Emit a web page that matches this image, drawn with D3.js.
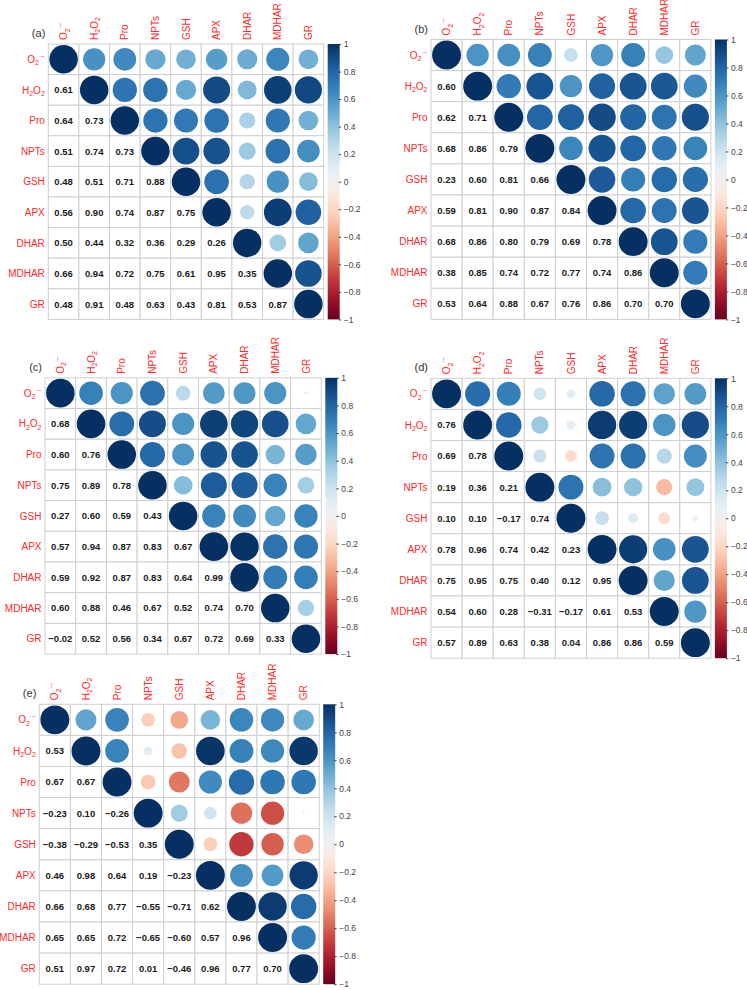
<!DOCTYPE html>
<html>
<head>
<meta charset="utf-8">
<script src="https://cdn.jsdelivr.net/npm/d3@7"></script>
<style>
  body { margin: 0; background: #fff; }
  svg text { font-family: "Liberation Sans", Arial, sans-serif; }
</style>
</head>
<body>
<div id="chart"></div>
<script>

// variables (row / column order of every matrix)
var varNames = ["O2", "H2O2", "Pro", "NPTs", "GSH", "APX", "DHAR", "MDHAR", "GR"];

// lower triangles, row i holds the correlations with the i variables before it
var corrA = [
  [],
  [0.61],
  [0.64, 0.73],
  [0.51, 0.74, 0.73],
  [0.48, 0.51, 0.71, 0.88],
  [0.56, 0.90, 0.74, 0.87, 0.75],
  [0.50, 0.44, 0.32, 0.36, 0.29, 0.26],
  [0.66, 0.94, 0.72, 0.75, 0.61, 0.95, 0.35],
  [0.48, 0.91, 0.48, 0.63, 0.43, 0.81, 0.53, 0.87]
];

var corrB = [
  [],
  [0.60],
  [0.62, 0.71],
  [0.68, 0.86, 0.79],
  [0.23, 0.60, 0.81, 0.66],
  [0.59, 0.81, 0.90, 0.87, 0.84],
  [0.68, 0.86, 0.80, 0.79, 0.69, 0.78],
  [0.38, 0.85, 0.74, 0.72, 0.77, 0.74, 0.86],
  [0.53, 0.64, 0.88, 0.67, 0.76, 0.86, 0.70, 0.70]
];

var corrC = [
  [],
  [0.68],
  [0.60, 0.76],
  [0.75, 0.89, 0.78],
  [0.27, 0.60, 0.59, 0.43],
  [0.57, 0.94, 0.87, 0.83, 0.67],
  [0.59, 0.92, 0.87, 0.83, 0.64, 0.99],
  [0.60, 0.88, 0.46, 0.67, 0.52, 0.74, 0.70],
  [-0.02, 0.52, 0.56, 0.34, 0.67, 0.72, 0.69, 0.33]
];

var corrD = [
  [],
  [0.76],
  [0.69, 0.78],
  [0.19, 0.36, 0.21],
  [0.10, 0.10, -0.17, 0.74],
  [0.78, 0.96, 0.74, 0.42, 0.23],
  [0.75, 0.95, 0.75, 0.40, 0.12, 0.95],
  [0.54, 0.60, 0.28, -0.31, -0.17, 0.61, 0.53],
  [0.57, 0.89, 0.63, 0.38, 0.04, 0.86, 0.86, 0.59]
];

var corrE = [
  [],
  [0.53],
  [0.67, 0.67],
  [-0.23, 0.10, -0.26],
  [-0.38, -0.29, -0.53, 0.35],
  [0.46, 0.98, 0.64, 0.19, -0.23],
  [0.66, 0.68, 0.77, -0.55, -0.71, 0.62],
  [0.65, 0.65, 0.72, -0.65, -0.60, 0.57, 0.96],
  [0.51, 0.97, 0.72, 0.01, -0.46, 0.96, 0.77, 0.70]
];

var panelLetters = ["(a)", "(b)", "(c)", "(d)", "(e)"];
var panelData = [corrA, corrB, corrC, corrD, corrE];

// where each matrix sits on the page
var panelBox = [
  { left: 48.3, top: 44,    cell: 30.6 },
  { left: 431,  top: 39.5,  cell: 31.1 },
  { left: 45,   top: 377.8, cell: 30.7 },
  { left: 431,  top: 378.3, cell: 31.1 },
  { left: 39.3, top: 704.3, cell: 31.1 }
];

var svgWidth = 747;
var svgHeight = 990;

var svg = d3.select("#chart")
  .append("svg")
  .attr("width", svgWidth)
  .attr("height", svgHeight);

var colorScale = d3.scaleSequential(d3.interpolateRdBu).domain([-1, 1]);
var fmt = d3.format(".2f");
var labelRed = "#ff2a2a";

// gradient for the colour bars
var grad = svg.append("defs").append("linearGradient")
  .attr("id", "rdbu")
  .attr("x1", 0).attr("y1", 1)
  .attr("x2", 0).attr("y2", 0);

d3.range(0, 1.001, 0.02).forEach(function(t) {
  grad.append("stop")
    .attr("offset", t)
    .attr("stop-color", colorScale(t * 2 - 1));
});

// full symmetric value from lower triangle
function corrValue(tri, i, j) {
  if (i === j) return 1;
  return i > j ? tri[i][j] : tri[j][i];
}

// variable names with sub/superscripts
function writeName(sel, name) {
  if (name === "O2") {
    sel.append("tspan").text("O");
    sel.append("tspan").attr("font-size", "7px").attr("dy", 2.5).text("2");
    sel.append("tspan").attr("font-size", "6.5px").attr("dy", -6.5).text("\u00b7\u2212");
  }
  else if (name === "H2O2") {
    sel.append("tspan").text("H");
    sel.append("tspan").attr("font-size", "7px").attr("dy", 2.5).text("2");
    sel.append("tspan").attr("dy", -2.5).text("O");
    sel.append("tspan").attr("font-size", "7px").attr("dy", 2.5).text("2");
  }
  else {
    sel.text(name);
  }
}

function drawPanel(tri, box, letter) {
  var n = varNames.length;
  var size = box.cell * n;

  var g = svg.append("g")
    .attr("transform", `translate(${box.left}, ${box.top})`);

  var xBand = d3.scaleBand().domain(varNames).range([0, size]);
  var yBand = d3.scaleBand().domain(varNames).range([0, size]);
  var rScale = d3.scaleSqrt().domain([0, 1]).range([0, box.cell * 0.465]);

  var cells = [];
  varNames.forEach(function(rn, i) {
    varNames.forEach(function(cn, j) {
      cells.push({ row: rn, col: cn, i: i, j: j, v: corrValue(tri, i, j) });
    });
  });

  // grid
  g.selectAll("rect.cell")
    .data(cells)
    .enter()
    .append("rect")
    .attr("class", "cell")
    .attr("x", d => xBand(d.col))
    .attr("y", d => yBand(d.row))
    .attr("width", xBand.bandwidth())
    .attr("height", yBand.bandwidth())
    .attr("fill", "#fff")
    .attr("stroke", "#cfcfcf")
    .attr("stroke-width", 1);

  // upper triangle + diagonal: circles
  g.selectAll("circle")
    .data(cells.filter(d => d.j >= d.i))
    .enter()
    .append("circle")
    .attr("cx", d => xBand(d.col) + xBand.bandwidth() / 2)
    .attr("cy", d => yBand(d.row) + yBand.bandwidth() / 2)
    .attr("r", d => rScale(Math.abs(d.v)))
    .attr("fill", d => colorScale(d.v));

  // lower triangle: numbers
  g.selectAll("text.val")
    .data(cells.filter(d => d.j < d.i))
    .enter()
    .append("text")
    .attr("class", "val")
    .attr("x", d => xBand(d.col) + xBand.bandwidth() / 2)
    .attr("y", d => yBand(d.row) + yBand.bandwidth() / 2)
    .attr("dy", "0.36em")
    .attr("text-anchor", "middle")
    .attr("font-size", "9.5px")
    .attr("font-weight", "bold")
    .attr("fill", "#1a1a1a")
    .text(d => fmt(d.v));

  // row labels
  varNames.forEach(function(name) {
    var t = g.append("text")
      .attr("x", -3.5)
      .attr("y", yBand(name) + yBand.bandwidth() / 2)
      .attr("dy", "0.36em")
      .attr("text-anchor", "end")
      .attr("font-size", "10px")
      .attr("fill", labelRed);
    writeName(t, name);
  });

  // column labels (rotated)
  varNames.forEach(function(name) {
    var cx = xBand(name) + xBand.bandwidth() / 2;
    var t = g.append("text")
      .attr("transform", `translate(${cx}, -4) rotate(-90)`)
      .attr("dy", "0.36em")
      .attr("text-anchor", "start")
      .attr("font-size", "10px")
      .attr("fill", labelRed);
    writeName(t, name);
  });

  // panel letter
  g.append("text")
    .attr("x", -3)
    .attr("y", -7)
    .attr("text-anchor", "end")
    .attr("font-size", "11px")
    .attr("fill", "#333")
    .text(letter);

  // colour bar
  var barX = size + 4;
  var barW = 12;
  g.append("rect")
    .attr("x", barX)
    .attr("y", 0)
    .attr("width", barW)
    .attr("height", size)
    .attr("fill", "url(#rdbu)");

  var barScale = d3.scaleLinear().domain([-1, 1]).range([size, 0]);
  var barAxis = d3.axisRight(barScale)
    .tickValues(barScale.ticks(10))
    .tickFormat(d3.format("~g"))
    .tickSize(2.5)
    .tickPadding(2.5);

  var ax = g.append("g")
    .attr("transform", `translate(${barX + barW - 1}, 0)`)
    .call(barAxis);

  ax.select(".domain").remove();
  ax.selectAll("line").attr("stroke", "#444");
  ax.selectAll("text")
    .attr("font-size", "8.5px")
    .attr("fill", "#444")
    .style("font-family", "'Liberation Sans', Arial, sans-serif");
}

panelData.forEach(function(tri, k) {
  drawPanel(tri, panelBox[k], panelLetters[k]);
});

</script>
</body>
</html>
